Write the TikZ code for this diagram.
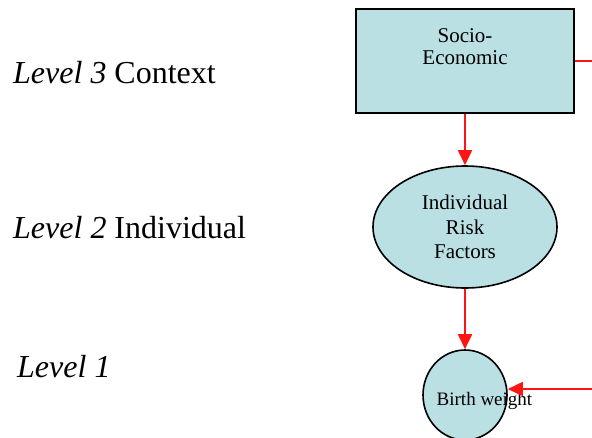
\documentclass[tikz,border=0pt]{standalone}
\usepackage{fontspec}
\setmainfont{Liberation Serif}
\usetikzlibrary{arrows.meta,shapes.geometric}
\definecolor{boxfill}{RGB}{186,224,228}
\definecolor{arrowred}{RGB}{255,20,20}
\tikzset{
  levellabel/.style={anchor=base west, inner sep=0pt, font=\fontsize{32}{36}\selectfont},
  shapebox/.style={draw=black, line width=1.6pt, fill=boxfill, inner sep=0pt},
  inner/.style={align=center, inner sep=0pt, font=\fontsize{21}{23}\selectfont},
  redarrow/.style={draw=arrowred, line width=1.8pt, -{Triangle[length=15pt,width=14pt]}},
  redline/.style={draw=arrowred, line width=1.8pt}
}
\begin{document}
\begin{tikzpicture}[x=1pt,y=-1pt]
\useasboundingbox (0,0) rectangle (592,437);
\begin{scope}
\clip (0,0) rectangle (592,437);
% level labels
\node[levellabel] (l3) at (13,83) {\textit{Level 3} Context};
\node[levellabel] (l2) at (13,238) {\textit{Level 2} Individual};
\node[levellabel] (l1) at (17,377) {\textit{Level 1}};
% shapes
\node[shapebox, rectangle, minimum width=218pt, minimum height=104pt] (se) at (465,61) {};
\node[inner, font=\fontsize{21}{22.5}\selectfont] (setext) at (465,46.5) {Socio-\\Economic};
\node[shapebox, ellipse, minimum width=184pt, minimum height=122pt, align=center,
      font=\fontsize{21}{24.5}\selectfont] (ir) at (465,227) {Individual\\Risk\\Factors};
\node[shapebox, ellipse, minimum width=84pt, minimum height=90pt] (bw) at (465,395) {};
\node[anchor=base west, inner sep=0pt, font=\fontsize{19}{22}\selectfont] (bwtext) at (436.5,405.5) {Birth weight};
% connectors
\coordinate (e1) at (592,61);
\coordinate (e2) at (592,389);
\draw[redarrow] (se.south) -- (ir.north);
\draw[redarrow] (ir.south) -- (bw.north);
\draw[redline] (se.east) -- (e1);
\draw[redarrow] (e2) -- (e2 -| bw.east);
\end{scope}
\end{tikzpicture}
\end{document}
